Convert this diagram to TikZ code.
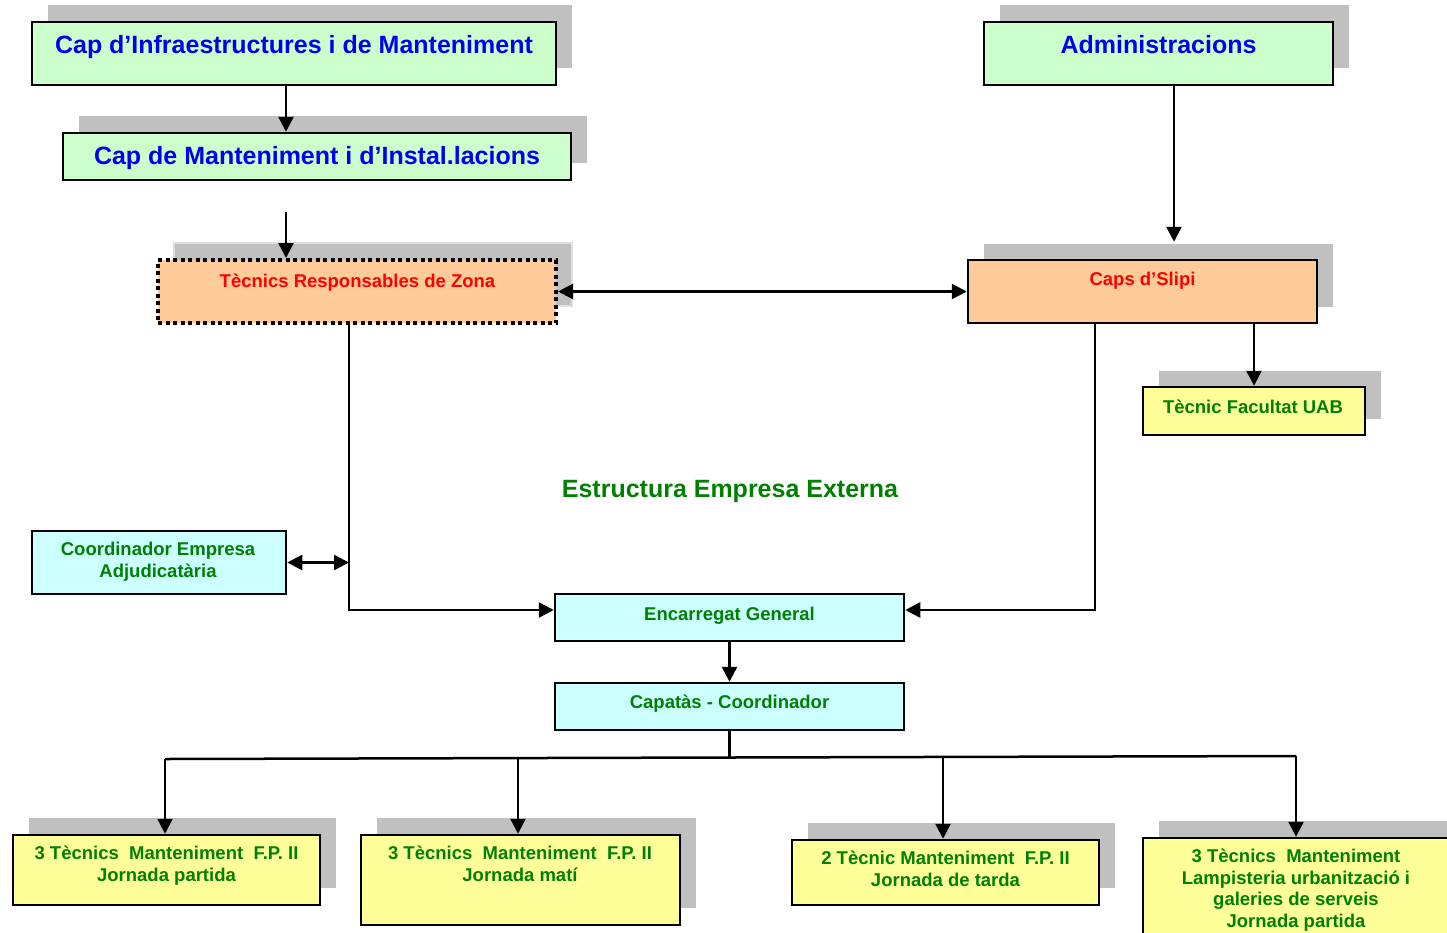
\documentclass[tikz,border=0pt]{standalone}
\usepackage{fontspec}
\setmainfont{Liberation Sans}
\usetikzlibrary{arrows.meta,shadows,calc}
\definecolor{shd}{HTML}{C0C0C0}
\definecolor{fgreen}{HTML}{CCFFCC}
\definecolor{forange}{HTML}{FFCC99}
\definecolor{fyellow}{HTML}{FFFF99}
\definecolor{fcyan}{HTML}{CCFFFF}
\definecolor{tblue}{HTML}{0000F0}
\definecolor{tred}{HTML}{FF0000}
\definecolor{tgreen}{HTML}{008000}
\tikzset{
  box/.style={draw=black, line width=2.5pt, inner sep=0pt},
  shbox/.style={box, copy shadow={shadow xshift=16pt, shadow yshift=17pt, fill=shd, draw=none}},
  bigtxt/.style={font=\bfseries\fontsize{25}{30}\selectfont, text=tblue, inner sep=0pt, anchor=base},
  redtxt/.style={font=\bfseries\fontsize{18.5}{21.5}\selectfont, text=tred, inner sep=0pt, anchor=base},
  grtxt/.style={font=\bfseries\fontsize{18.5}{21.5}\selectfont, text=tgreen, inner sep=0pt, anchor=base, align=center},
  arr/.style={line width=2.5pt, -{Triangle[length=15pt,width=15pt]}},
  dbl/.style={line width=2.5pt, {Triangle[length=15pt,width=15pt]}-{Triangle[length=15pt,width=15pt]}},
  ln/.style={line width=2.5pt}
}
\begin{document}
\begin{tikzpicture}[x=1pt,y=-1pt]
\useasboundingbox (0,0) rectangle (1447,932);
% top left
\node[shbox, fill=fgreen, minimum width=524, minimum height=63] (ci) at (294,53.5) {};
\node[bigtxt] (ci-t) at (294,53) {Cap d’Infraestructures i de Manteniment};
\node[shbox, fill=fgreen, minimum width=508, minimum height=47] (cm) at (317,156.5) {};
\node[bigtxt] (cm-t) at (317,164) {Cap de Manteniment i d’Instal.lacions};
% top right
\node[shbox, fill=fgreen, minimum width=349, minimum height=63] (ad) at (1158.5,53.5) {};
\node[bigtxt] (ad-t) at (1158.5,53) {Administracions};
% zone technicians
\node[box, fill=forange, line width=4pt, dash pattern=on 4pt off 3.5pt, minimum width=398, minimum height=63,
  copy shadow={shadow xshift=16pt, shadow yshift=17pt, fill=shd, draw=shd!50, line width=1.5pt, solid}] (tr) at (357,291.5) {};
\node[redtxt] (tr-t) at (357.5,287) {Tècnics Responsables de Zona};
\node[box, fill=forange, minimum width=349, minimum height=63,
  copy shadow={shadow xshift=16pt, shadow yshift=16pt, fill=shd, draw=none}] (cs) at (1142.5,291.5) {};
\node[redtxt] (cs-t) at (1142.5,285) {Caps d’Slipi};
\node[box, fill=fyellow, minimum width=222, minimum height=48,
  copy shadow={shadow xshift=16pt, shadow yshift=16pt, fill=shd, draw=none}] (tf) at (1254,411) {};
\node[grtxt] (tf-t) at (1253,413) {Tècnic Facultat UAB};
% title
\node[font=\bfseries\fontsize{25}{30}\selectfont, text=tgreen, inner sep=0pt, anchor=base] (title) at (730,497) {Estructura Empresa Externa};
% external company
\node[box, fill=fcyan, minimum width=254, minimum height=63] (co) at (159,562.5) {};
\node[grtxt] (co-t) at (158,577) {Coordinador Empresa\\Adjudicatària};
\node[box, fill=fcyan, minimum width=349, minimum height=47] (eg) at (729.5,617.5) {};
\node[grtxt] (eg-t) at (729.5,620) {Encarregat General};
\node[box, fill=fcyan, minimum width=349, minimum height=47] (cp) at (729.5,706.5) {};
\node[grtxt] (cp-t) at (729.5,708) {Capatàs - Coordinador};
% bottom boxes
\node[shbox, fill=fyellow, minimum width=307, minimum height=70] (b1) at (166.5,870) {};
\node[grtxt] (b1-t) at (166.5,881) {3 Tècnics~~Manteniment~~F.P. II\\Jornada partida};
\node[shbox, fill=fyellow, minimum width=319, minimum height=90] (b2) at (520.5,880) {};
\node[grtxt] (b2-t) at (520,881) {3 Tècnics~~Manteniment~~F.P. II\\Jornada matí};
\node[shbox, fill=fyellow, minimum width=307, minimum height=65] (b3) at (945.5,872.5) {};
\node[grtxt] (b3-t) at (945.5,886) {2 Tècnic Manteniment~~F.P. II\\Jornada de tarda};
\node[shbox, fill=fyellow, minimum width=307, minimum height=110] (b4) at (1296.5,893) {};
\node[grtxt] (b4-t) at (1296,927) {3 Tècnics~~Manteniment\\Lampisteria urbanització i\\galeries de serveis\\Jornada partida};
% connectors
\coordinate (c1) at (286,212);
\coordinate (j) at (349,562.5);
\coordinate (bl) at (165,759);
\coordinate (br) at (1296,756);
\coordinate (bc) at (729.5,757.5);
\coordinate (bm1) at (518,758);
\coordinate (bm2) at (943,757);
\coordinate (csTop) at ([yshift=17pt]cs.north);
\draw[arr] ([xshift=-8pt]ci.south) -- ([xshift=-8pt]ci.south |- cm.north);
\draw[arr] (c1) -- (c1 |- tr.north);
\draw[arr] ([xshift=15.5pt]ad.south) -- ([xshift=15.5pt]ad.south |- csTop);
\draw[dbl] (tr.east) -- (cs.west);
\draw[arr] (cs.south -| tf.north) -- (tf.north);
\draw[arr] ([xshift=-8pt]tr.south) |- ([yshift=7.5pt]eg.west);
\draw[arr] ([xshift=-47.5pt]cs.south) |- ([yshift=7.5pt]eg.east);
\draw[dbl] (co.east) -- (j);
\draw[arr] (eg.south) -- (cp.north);
\draw[ln] (cp.south) -- (bc);
\draw[ln] (bl) -- (br);
\draw[arr] (bl) -- (bl |- b1.north);
\draw[arr] (bm1) -- (bm1 |- b2.north);
\draw[arr] (bm2) -- (bm2 |- b3.north);
\draw[arr] (br) -- (br |- b4.north);
\end{tikzpicture}
\end{document}
